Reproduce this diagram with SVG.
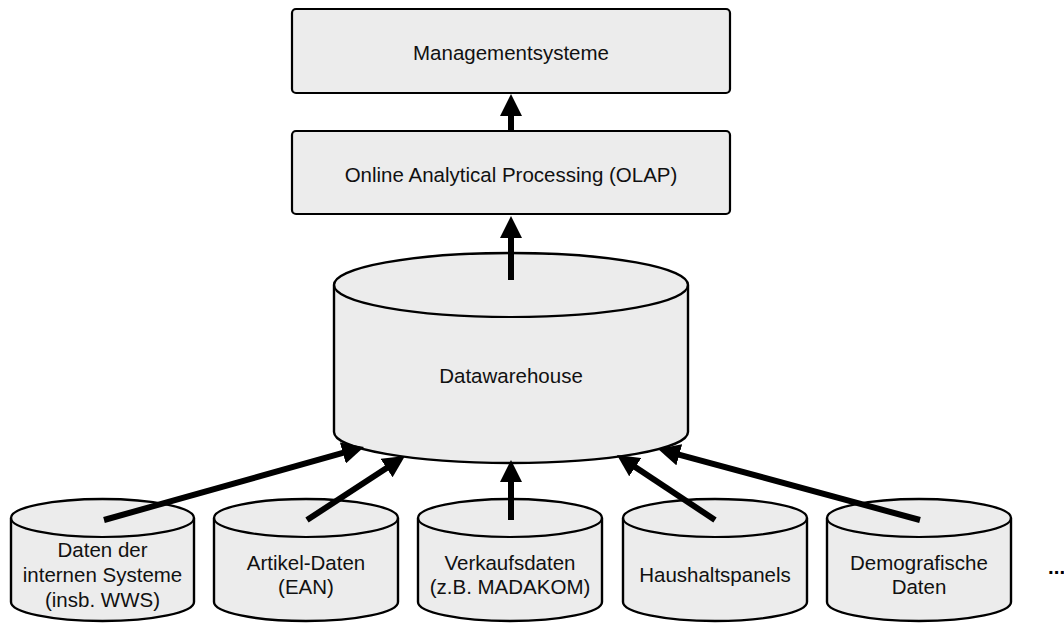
<svg xmlns="http://www.w3.org/2000/svg" width="1064" height="623" viewBox="0 0 1064 623">
  <style>
    .box { fill: #ececec; stroke: #000; stroke-width: 2.2; }
    .cyl { fill: #ececec; stroke: #000; stroke-width: 2.4; stroke-linejoin: round; }
    .rim { fill: none; stroke: #000; stroke-width: 2.2; }
    .lbl { font-family: "Liberation Sans", Arial, sans-serif; font-size: 20.5px; fill: #111; text-anchor: middle; }
    .flow { stroke: #000; stroke-width: 6; fill: none; marker-end: url(#head); }
  </style>
  <defs>
    <marker id="head" markerUnits="userSpaceOnUse" viewBox="0 0 22 22" markerWidth="22" markerHeight="22" refX="12" refY="11" orient="auto">
      <path d="M0,0 L22,11 L0,22 Z" fill="#000"/>
    </marker>
  </defs>

  <rect width="1064" height="623" fill="#fff"/>

  <!-- top layers -->
  <g id="management">
    <rect class="box" x="292" y="9" width="438" height="84" rx="4"/>
    <text class="lbl" x="511" y="59.5">Managementsysteme</text>
  </g>
  <g id="olap">
    <rect class="box" x="292" y="131" width="438" height="83" rx="4"/>
    <text class="lbl" x="511" y="182">Online Analytical Processing (OLAP)</text>
  </g>

  <!-- central store -->
  <g id="datawarehouse">
    <path class="cyl" d="M334,285 A177,32 0 0 1 688,285 V432 A177,31 0 0 1 334,432 Z"/>
    <path class="rim" d="M334,285 A177,32 0 0 0 688,285"/>
    <text class="lbl" x="511" y="383">Datawarehouse</text>
  </g>

  <!-- data sources -->
  <g id="src-intern">
    <path class="cyl" d="M11,518 A91.5,19 0 0 1 194,518 V602 A91.5,19 0 0 1 11,602 Z"/>
    <path class="rim" d="M11,518 A91.5,19 0 0 0 194,518"/>
    <text class="lbl" x="102.5" y="557">Daten der</text>
    <text class="lbl" x="102.5" y="582">internen Systeme</text>
    <text class="lbl" x="102.5" y="607">(insb. WWS)</text>
  </g>
  <g id="src-artikel">
    <path class="cyl" d="M214,518 A92,19 0 0 1 398,518 V602 A92,19 0 0 1 214,602 Z"/>
    <path class="rim" d="M214,518 A92,19 0 0 0 398,518"/>
    <text class="lbl" x="306" y="570">Artikel-Daten</text>
    <text class="lbl" x="306" y="594">(EAN)</text>
  </g>
  <g id="src-verkauf">
    <path class="cyl" d="M418,518 A92,19 0 0 1 602,518 V602 A92,19 0 0 1 418,602 Z"/>
    <path class="rim" d="M418,518 A92,19 0 0 0 602,518"/>
    <text class="lbl" x="510" y="570">Verkaufsdaten</text>
    <text class="lbl" x="510" y="594">(z.B. MADAKOM)</text>
  </g>
  <g id="src-haushalt">
    <path class="cyl" d="M623,518 A92,19 0 0 1 807,518 V602 A92,19 0 0 1 623,602 Z"/>
    <path class="rim" d="M623,518 A92,19 0 0 0 807,518"/>
    <text class="lbl" x="715" y="582">Haushaltspanels</text>
  </g>
  <g id="src-demografie">
    <path class="cyl" d="M827,518 A92,19 0 0 1 1011,518 V602 A92,19 0 0 1 827,602 Z"/>
    <path class="rim" d="M827,518 A92,19 0 0 0 1011,518"/>
    <text class="lbl" x="919" y="570">Demografische</text>
    <text class="lbl" x="919" y="594">Daten</text>
  </g>

  <g id="more">
    <text x="1048" y="574" style="font-family: 'Liberation Sans', Arial, sans-serif; font-size: 20.5px; font-weight: bold;">...</text>
  </g>

  <!-- connectors -->
  <g id="connectors">
    <line class="flow" x1="511" y1="131" x2="511" y2="104"/>
    <line class="flow" x1="511" y1="280" x2="511" y2="226"/>
    <line class="flow" x1="104" y1="520" x2="354.4" y2="449.7"/>
    <line class="flow" x1="307" y1="520" x2="396.6" y2="461.5"/>
    <line class="flow" x1="511" y1="520" x2="511" y2="470"/>
    <line class="flow" x1="715" y1="520" x2="625.3" y2="460.5"/>
    <line class="flow" x1="920" y1="520" x2="667.7" y2="451.6"/>
  </g>
</svg>
